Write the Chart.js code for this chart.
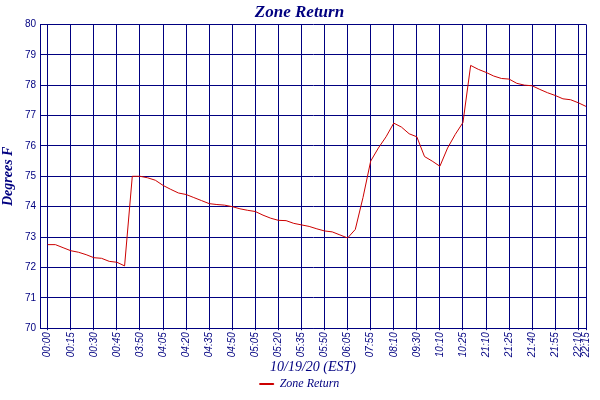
<!DOCTYPE html>
<html>
<head>
<meta charset="utf-8">
<script src="https://cdn.jsdelivr.net/npm/chart.js@4"></script>
<style>
  html, body { margin: 0; padding: 0; background: #fff; }
  #wrap { width: 600px; height: 400px; }
</style>
</head>
<body>
<div id="wrap"><canvas id="c"></canvas></div>
<script>
// tick labels, one per 3 samples (5-minute readings), plus the final reading
const tickIndex = [0, 3, 6, 9, 12, 15, 18, 21, 24, 27, 30, 33, 36, 39, 42, 45, 48, 51, 54, 57, 60, 63, 66, 69, 70];
const tickLabels = ['00:00', '00:15', '00:30', '00:45', '03:50', '04:05', '04:20', '04:35', '04:50', '05:05',
  '05:20', '05:35', '05:50', '06:05', '07:55', '08:10', '09:30', '10:10', '10:25', '21:10',
  '21:25', '21:40', '21:55', '22:10', '22:15'];

// Zone Return temperature, degrees F
const zoneReturn = [
  72.75, 72.75, 72.65, 72.55, 72.5, 72.42, 72.32, 72.3, 72.2, 72.17,
  72.05, 75.0, 75.0, 74.95, 74.87, 74.7, 74.57, 74.45, 74.4, 74.3,
  74.2, 74.1, 74.07, 74.05, 74.0, 73.93, 73.88, 73.84, 73.72, 73.62,
  73.55, 73.54, 73.45, 73.4, 73.35, 73.27, 73.2, 73.17, 73.07, 72.97,
  73.25, 74.3, 75.5, 75.93, 76.3, 76.75, 76.62, 76.4, 76.3, 75.65,
  75.5, 75.33, 75.93, 76.38, 76.77, 78.65, 78.52, 78.42, 78.3, 78.22,
  78.2, 78.06, 78.0, 77.98, 77.86, 77.75, 77.66, 77.55, 77.52, 77.42,
  77.3
];

const navy = '#000080';
const serif = '"Liberation Serif", "DejaVu Serif", serif';
const sans = '"Liberation Sans", Arial, sans-serif';

new Chart(document.getElementById('c'), {
  type: 'line',
  data: {
    datasets: [{
      label: 'Zone Return',
      data: zoneReturn.map((v, i) => ({ x: i, y: v })),
      borderColor: '#cc0000',
      backgroundColor: '#cc0000',
      borderWidth: 1,
      pointRadius: 0,
      tension: 0
    }]
  },
  options: {
    responsive: true,
    maintainAspectRatio: false,
    animation: false,
    layout: { padding: { left: 0, right: 1, top: 2, bottom: 0 } },
    plugins: {
      title: {
        display: true, text: 'Zone Return', color: navy,
        font: { family: serif, size: 17, style: 'italic', weight: 'bold' },
        padding: { top: 0, bottom: 2 }
      },
      legend: {
        position: 'bottom',
        labels: {
          color: navy, boxWidth: 14, boxHeight: 1, padding: 2,
          font: { family: serif, size: 12, style: 'italic' }
        }
      },
      tooltip: { enabled: false }
    },
    scales: {
      x: {
        type: 'linear', min: -1, max: 70,
        afterBuildTicks: s => { s.ticks = tickIndex.map(v => ({ value: v })); },
        ticks: {
          color: navy, autoSkip: false, maxRotation: 90, minRotation: 90, padding: 2,
          font: { family: sans, size: 10, style: 'italic' },
          callback: v => tickLabels[tickIndex.indexOf(v)]
        },
        grid: { color: navy, lineWidth: 1, drawTicks: true, tickLength: 2 },
        border: { color: navy, width: 1 },
        title: {
          display: true, text: '10/19/20 (EST)', color: navy,
          font: { family: serif, size: 14, style: 'italic' }, padding: { top: 0, bottom: 0 }
        }
      },
      y: {
        min: 70, max: 80,
        ticks: { stepSize: 1, color: navy, font: { family: sans, size: 10 }, padding: 4 },
        grid: { color: navy, lineWidth: 1, tickLength: 0 },
        border: { color: navy, width: 1 },
        afterFit: s => { s.width = 40; },
        title: {
          display: true, text: 'Degrees F', color: navy,
          font: { family: serif, size: 14, style: 'italic', weight: 'bold' }, padding: 0
        }
      }
    }
  }
});
</script>
</body>
</html>
